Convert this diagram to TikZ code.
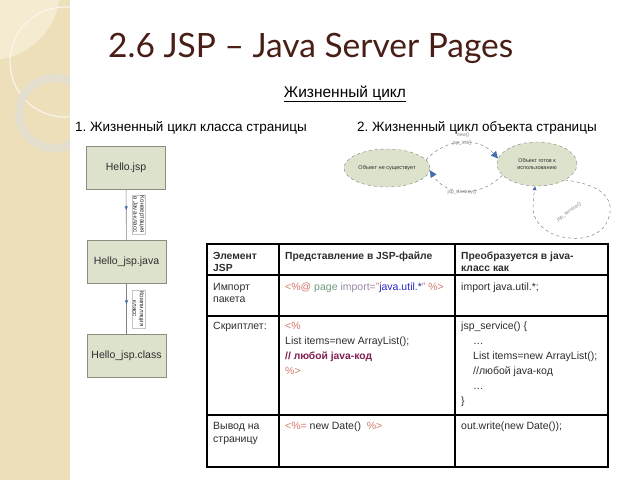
\documentclass[tikz,border=0pt]{standalone}
\usepackage{fontspec}
\setmainfont{Liberation Sans}
\newfontfamily\titlefont{Lato}
\usepackage{xcolor}
\usetikzlibrary{shapes.geometric}
\usetikzlibrary{arrows.meta}
\usetikzlibrary{decorations.markings}
\definecolor{stripbg}{RGB}{236,223,186}
\definecolor{stripfade}{RGB}{244,235,208}
\definecolor{titlebrown}{RGB}{72,30,22}
\definecolor{sage}{RGB}{221,226,204}
\definecolor{sageedge}{RGB}{140,140,130}
\definecolor{tipblue}{RGB}{70,110,175}
\definecolor{tagpink}{RGB}{208,120,105}
\definecolor{pagegreen}{RGB}{110,155,130}
\definecolor{importgrey}{RGB}{150,135,165}
\definecolor{strblue}{RGB}{40,40,200}
\definecolor{commentred}{RGB}{128,30,80}
\definecolor{bodygrey}{RGB}{45,45,45}
\frenchspacing

\tikzset{
	classbox/.style={draw=sageedge, fill=sage, minimum width=79pt, minimum height=43pt, inner sep=0pt,
		font=\fontsize{10.5}{12}\selectfont, text=bodygrey},
	flowline/.style={draw=gray, line width=0.6pt, postaction={decorate},
		decoration={markings, mark=at position 0.42 with {\arrow[tipblue]{Latex[length=4pt,width=3.5pt]}}}},
	labeltag/.style={draw=gray!45, fill=white, inner sep=1pt, align=center, rotate=-90,
		font=\fontsize{6.2}{6.8}\selectfont, text=bodygrey},
	stateoval/.style={ellipse, draw=gray, dashed, fill=sage, inner sep=0pt, align=center,
		font=\fontsize{5.5}{6.5}\selectfont, text=bodygrey},
	cycleline/.style={draw=gray, dashed, line width=0.5pt},
	bigtip/.style={-{Triangle[color=tipblue,length=7pt,width=7pt,line width=0pt]}},
	smalltip/.style={-{Triangle[color=tipblue,length=4pt,width=4pt,line width=0pt]}},
	cyclelabel/.style={font=\fontsize{5}{6}\selectfont, text=gray, inner sep=0.5pt},
	cellhead/.style={anchor=base west, inner sep=0pt, font=\bfseries\fontsize{10.3}{11}\selectfont, text=bodygrey},
	celltext/.style={anchor=base west, inner sep=0pt, font=\fontsize{10.5}{11}\selectfont, text=bodygrey}
}

\begin{document}
\begin{tikzpicture}[x=1pt,y=-1pt]
		\useasboundingbox (0,0) rectangle (640,480);
		
		% decorative strip on the left
		\fill[stripbg] (0,0) rectangle (70,480);
		\begin{scope}
			\clip (0,0) rectangle (70,480);
			\fill[stripfade] (-10,-10) circle[radius=70];
			\draw[white!70!stripbg, line width=1.2pt] (65,62) circle[radius=55];
			\draw[white!50!stripbg!85!gray, line width=8pt] (54,113) circle[radius=35];
		\end{scope}
		
		% headings
		\node[font=\titlefont\fontsize{33.5}{40}\selectfont, text=titlebrown, anchor=base west, inner sep=0pt] (title) at (108,57) {2.6 JSP – Java Server Pages};
		\node[font=\fontsize{15.5}{17}\selectfont, anchor=base, inner sep=0pt] (lifecycle) at (345,97) {\underline{Жизненный цикл}};
		\node[font=\fontsize{13.5}{15}\selectfont, anchor=base west, inner sep=0pt] (classcycle) at (75,131) {1. Жизненный цикл класса страницы};
		\node[font=\fontsize{13.5}{15}\selectfont, anchor=base west, inner sep=0pt] (objcycle) at (357,131) {2. Жизненный цикл объекта страницы};
		
		% class life cycle
		\node[classbox] (jsp) at (126,167.5) {Hello.jsp};
		\node[classbox] (java) at (126.5,261.5) {Hello\_jsp.java};
		\node[classbox] (class) at (126.5,355.5) {Hello\_jsp.class};
		\draw[flowline] (jsp) -- (java);
		\draw[flowline] (java) -- (class);
		\node[labeltag] (convtag) at (139,214.5) {Конвертация\\в Java-класс};
		\node[labeltag] (compiletag) at (138.5,309) {Компиляция\\класс};
		
		% object life cycle
		\node[stateoval, minimum width=86pt, minimum height=38pt] (gone) at (387,168) {Объект не существует};
		\node[stateoval, minimum width=80pt, minimum height=44pt] (ready) at (537,164) {Объект готов к\\использованию};
		\draw[cycleline, bigtip] (gone.12) .. controls (448,136) and (480,138) .. (ready.172);
		\draw[cycleline, bigtip] (ready.198) .. controls (480,198) and (446,196) .. (gone.-3);
		\draw[cycleline, smalltip]
			(ready.-30) .. controls (598,184) and (612,196) .. (610,212)
			.. controls (607,234) and (586,240) .. (570,238)
			.. controls (550,237) and (533,224) .. (533,208)
			.. controls (533,200) and (534,194) .. (ready.-95);
		\node[cyclelabel] (newlbl) at (463,135) {new()};
		\node[cyclelabel] (initlbl) at (462,143) {jsp\_init()};
		\node[cyclelabel] (destroylbl) at (462,192) {jsp\_destroy()};
		\node[cyclelabel, rotate=35] (servicelbl) at (569,212) {jsp\_service()};
		
		% table
		\draw[line width=1.8pt] (207,244) rectangle (608,467);
		\foreach \cx in {279,455} {
			\draw[line width=1.2pt] (\cx,244) -- (\cx,467);
		}
		\draw[line width=1.8pt] (207,275) -- (608,275);
		\foreach \ry in {316,415} {
			\draw[line width=1.2pt] (207,\ry) -- (608,\ry);
		}
		
		\node[cellhead] (h1a) at (213,259) {Элемент};
		\node[cellhead] (h1b) at (213,271) {JSP};
		\node[cellhead] (h2) at (285,259) {Представление в JSP-файле};
		\node[cellhead] (h3a) at (461,259) {Преобразуется в java-};
		\node[cellhead] (h3b) at (461,271) {класс как};
		
		\node[celltext] (importa) at (213,290) {Импорт};
		\node[celltext] (importb) at (213,302) {пакета};
		\node[celltext] (importjsp) at (285,290) {\textcolor{tagpink}{<\%@} \textcolor{pagegreen}{page} \textcolor{importgrey}{import=}\textcolor{tagpink}{"}\textcolor{strblue}{java.util.*}\textcolor{tagpink}{" \%>}};
		\node[celltext] (importjava) at (461,290) {import java.util.*;};
		
		\node[celltext] (scriptlet) at (213,329) {Скриптлет:};
		\node[celltext] (sl1) at (285,329) {\textcolor{tagpink}{<\%}};
		\node[celltext] (sl2) at (285,344) {List items=new ArrayList();};
		\node[celltext, text=commentred, font=\bfseries\fontsize{10.3}{11}\selectfont] (sl3) at (285,359) {// любой java-код};
		\node[celltext] (sl4) at (285,374) {\textcolor{tagpink}{\%>}};
		\node[celltext] (sv1) at (461,329) {jsp\_service() \{};
		\node[celltext] (sv2) at (473,344) {…};
		\node[celltext] (sv3) at (473,359) {List items=new ArrayList();};
		\node[celltext] (sv4) at (473,374) {//любой java-код};
		\node[celltext] (sv5) at (473,389) {…};
		\node[celltext] (sv6) at (461,404) {\}};
		
		\node[celltext] (outa) at (213,429) {Вывод на};
		\node[celltext] (outb) at (213,442) {страницу};
		\node[celltext] (outjsp) at (285,429) {\textcolor{tagpink}{<\%=} new Date()\ \ \textcolor{tagpink}{\%>}};
		\node[celltext] (outjava) at (461,429) {out.write(new Date());};
	\end{tikzpicture}
\end{document}
